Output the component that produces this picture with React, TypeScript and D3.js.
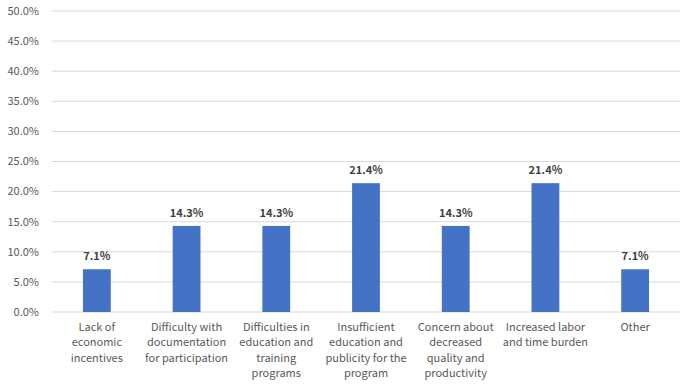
import React from "react";
import * as d3 from "d3";

const categories: string[][] = [
  ["Lack of", "economic", "incentives"],
  ["Difficulty with", "documentation", "for participation"],
  ["Difficulties in", "education and", "training", "programs"],
  ["Insufficient", "education and", "publicity for the", "program"],
  ["Concern about", "decreased", "quality and", "productivity"],
  ["Increased labor", "and time burden"],
  ["Other"],
];
const values: number[] = [7.1, 14.3, 14.3, 21.4, 14.3, 21.4, 7.1];
const yTicks: number[] = [0, 5, 10, 15, 20, 25, 30, 35, 40, 45, 50];

const W = 689;
const H = 385;
const left = 52;
const right = 680;
const top = 11;
const bottom = 312;
const font = "'Noto Sans CJK KR', 'Noto Sans', sans-serif";

export default function App() {
  const x = d3
    .scaleBand<number>()
    .domain(values.map((_, i) => i))
    .range([left, right])
    .paddingInner(0.69)
    .paddingOuter(0.345);
  const y = d3.scaleLinear().domain([0, 50]).range([bottom, top]);
  const step = (right - left) / values.length;

  return (
    <svg
      width={W}
      height={H}
      style={{ position: "absolute", left: 0, top: 0, background: "#fff" }}
    >
      {yTicks.map((t) => (
        <g key={t}>
          <line
            x1={left}
            x2={right}
            y1={y(t)}
            y2={y(t)}
            stroke="#d9d9d9"
            strokeWidth={1}
          />
          <text
            x={39}
            y={y(t)}
            dy="0.35em"
            textAnchor="end"
            fontFamily={font}
            fontSize={11}
            fill="#595959"
          >
            {t.toFixed(1) + "%"}
          </text>
        </g>
      ))}
      {values.map((v, i) => (
        <g key={i}>
          <rect
            x={x(i)!}
            y={y(v)}
            width={x.bandwidth()}
            height={y(0) - y(v)}
            fill="#4472C4"
          />
          <text
            x={x(i)! + x.bandwidth() / 2}
            y={y(v) - 9}
            textAnchor="middle"
            fontFamily={font}
            fontSize={11}
            fontWeight="bold"
            fill="#404040"
          >
            {v.toFixed(1) + "%"}
          </text>
        </g>
      ))}
      {categories.map((lines, i) => (
        <text
          key={i}
          textAnchor="middle"
          fontFamily={font}
          fontSize={11}
          fill="#595959"
        >
          {lines.map((l, j) => (
            <tspan key={j} x={left + step * (i + 0.5)} y={331 + j * 15.3}>
              {l}
            </tspan>
          ))}
        </text>
      ))}
    </svg>
  );
}
